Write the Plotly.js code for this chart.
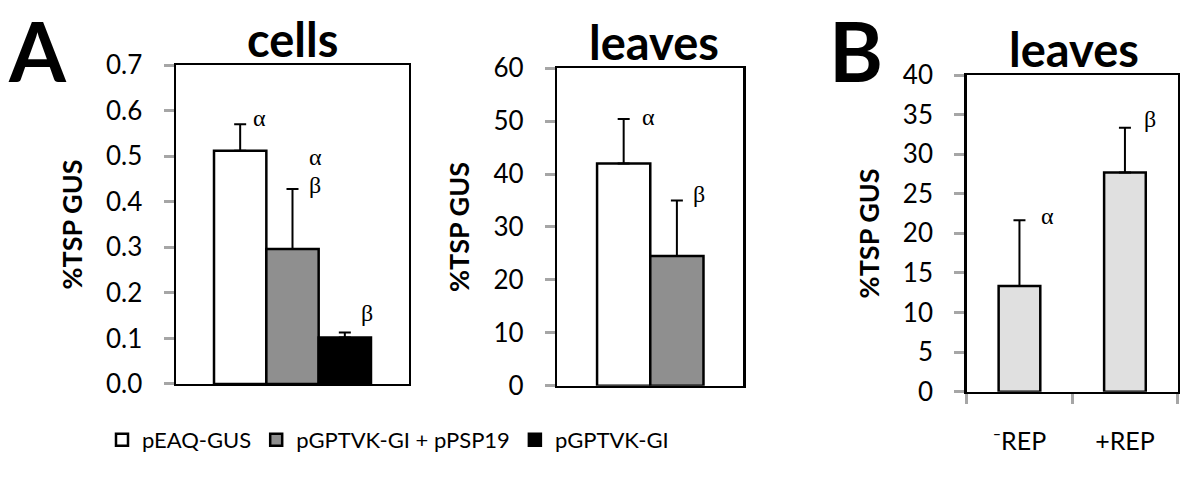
<!DOCTYPE html>
<html>
<head>
<meta charset="utf-8">
<script src="https://cdn.plot.ly/plotly-3.0.1.min.js"></script>
<style>
  html, body { margin: 0; padding: 0; background: #fff; }
  #chart { width: 1200px; height: 483px; }
</style>
</head>
<body>
<div id="chart"></div>
<script>
// panel A, cells
var seriesNames = ['pEAQ-GUS', 'pGPTVK-GI + pPSP19', 'pGPTVK-GI'];
var seriesColors = ['#ffffff', '#8f8f8f', '#000000'];
var cellsVals = [0.512, 0.296, 0.102];
var cellsErr = [0.058, 0.132, 0.011];

// panel A, leaves (only the first two series)
var leavesVals = [42.0, 24.5];
var leavesErr = [8.4, 10.5];

// panel B, leaves
var repCats = ['\u207BREP', '+REP'];
var repVals = [13.35, 27.7];
var repErr = [8.3, 5.65];

var font = 'Lato, "Open Sans", sans-serif';
var serif = '"Liberation Serif", "DejaVu Serif", serif';

function errBar(vals) {
  return {type: 'data', symmetric: false, array: vals,
          arrayminus: vals.map(function () { return 0; }),
          color: '#000', thickness: 2, width: 6};
}

var data = [];
seriesNames.forEach(function (name, i) {
  data.push({
    type: 'bar', name: name, x: ['cells'], y: [cellsVals[i]],
    xaxis: 'x', yaxis: 'y',
    marker: {color: seriesColors[i], line: {color: '#000', width: 2.5}},
    error_y: errBar([cellsErr[i]]),
    hoverinfo: 'y'
  });
});
leavesVals.forEach(function (v, i) {
  data.push({
    type: 'bar', name: seriesNames[i], x: ['leaves'], y: [v],
    xaxis: 'x2', yaxis: 'y2', showlegend: false,
    marker: {color: seriesColors[i], line: {color: '#000', width: 2.5}},
    error_y: errBar([leavesErr[i]]),
    hoverinfo: 'y'
  });
});
data.push({
  type: 'bar', x: repCats, y: repVals, width: 0.395,
  xaxis: 'x3', yaxis: 'y3', showlegend: false,
  marker: {color: '#e0e0e0', line: {color: '#000', width: 2.5}},
  error_y: errBar(repErr),
  hoverinfo: 'y'
});

function yAx(domY, range, dtick, fmt, anchor) {
  return {
    domain: domY, anchor: anchor, range: range, dtick: dtick, tickformat: fmt,
    showgrid: false, zeroline: false,
    showline: true, linecolor: '#000', linewidth: 2.5, mirror: true,
    ticks: 'outside', ticklen: 10, tickwidth: 3, tickcolor: '#a6a6a6',
    ticklabelstandoff: 16,
    tickfont: {family: font, size: 26, color: '#000'},
    title: {text: '<b>%TSP GUS</b>', standoff: 16,
            font: {family: font, size: 27, color: '#000'}}
  };
}
function xAx(dom, anchor) {
  return {
    domain: dom, anchor: anchor, showgrid: false, zeroline: false,
    showline: true, linecolor: '#000', linewidth: 2.5, mirror: true,
    showticklabels: false, ticks: ''
  };
}

var layout = {
  width: 1200, height: 483,
  margin: {l: 0, r: 0, t: 0, b: 0},
  paper_bgcolor: '#fff', plot_bgcolor: '#fff',
  barmode: 'group', bargap: 0.326, bargroupgap: 0,
  font: {family: font, color: '#000'},
  xaxis: xAx([0.1467, 0.3408], 'y'),
  yaxis: yAx([0.205, 0.8654], [0, 0.7], 0.1, '.1f', 'x'),
  xaxis2: Object.assign(xAx([0.4644, 0.6194], 'y2'), {range: [-0.589, 0.589]}),
  yaxis2: yAx([0.2015, 0.8586], [0, 60], 10, '', 'x2'),
  xaxis3: Object.assign(xAx([0.8056, 0.9814], 'y3'), {
    showticklabels: true, ticks: 'outside', tickson: 'boundaries',
    ticklen: 10, tickwidth: 3, tickcolor: '#a6a6a6', ticklabelstandoff: 26,
    tickfont: {family: font, size: 25, color: '#000'}
  }),
  yaxis3: yAx([0.189, 0.8447], [0, 40], 5, '', 'x3'),
  showlegend: true,
  legend: {
    orientation: 'h', x: 0.085, xanchor: 'left', y: 0.089, yanchor: 'middle',
    font: {family: font, size: 22, color: '#000'},
    bgcolor: 'rgba(0,0,0,0)', borderwidth: 0, traceorder: 'normal'
  },
  annotations: [
    {text: '<b>A</b>', x: 7 / 1200, y: 1, xref: 'paper', yref: 'paper',
     xanchor: 'left', yanchor: 'top', yshift: 0, borderpad: 0, showarrow: false,
     font: {family: font, size: 82, color: '#000'}},
    {text: '<b>B</b>', x: 828 / 1200, y: 1, xref: 'paper', yref: 'paper',
     xanchor: 'left', yanchor: 'top', yshift: 0, borderpad: 0, showarrow: false,
     font: {family: font, size: 82, color: '#000'}},
    {text: '<b>cells</b>', x: 0.5, y: 1, xref: 'x domain', yref: 'y domain',
     xanchor: 'center', yanchor: 'bottom', yshift: -4, showarrow: false,
     font: {family: font, size: 47, color: '#000'}},
    {text: '<b>leaves</b>', x: 0.52, y: 1, xref: 'x2 domain', yref: 'y2 domain',
     xanchor: 'center', yanchor: 'bottom', yshift: -4, showarrow: false,
     font: {family: font, size: 47, color: '#000'}},
    {text: '<b>leaves</b>', x: 0.51, y: 1, xref: 'x3 domain', yref: 'y3 domain',
     xanchor: 'center', yanchor: 'bottom', yshift: -4, showarrow: false,
     font: {family: font, size: 47, color: '#000'}},
    // significance letters
    {text: '\u03B1', x: 0.36, y: 0.584, xref: 'x domain', yref: 'y'},
    {text: '\u03B1', x: 0.597, y: 0.498, xref: 'x domain', yref: 'y'},
    {text: '\u03B2', x: 0.597, y: 0.437, xref: 'x domain', yref: 'y'},
    {text: '\u03B2', x: 0.82, y: 0.156, xref: 'x domain', yref: 'y'},
    {text: '\u03B1', x: 0.493, y: 50.8, xref: 'x2 domain', yref: 'y2'},
    {text: '\u03B2', x: 0.762, y: 36.2, xref: 'x2 domain', yref: 'y2'},
    {text: '\u03B1', x: 0.385, y: 22.2, xref: 'x3 domain', yref: 'y3'},
    {text: '\u03B2', x: 0.869, y: 34.4, xref: 'x3 domain', yref: 'y3'}
  ].map(function (a) {
    if (a.showarrow === undefined) {
      a.showarrow = false;
      a.xanchor = 'center';
      a.yanchor = 'middle';
      a.font = {family: serif, size: 24, color: '#000'};
    }
    return a;
  })
};

Plotly.newPlot('chart', data, layout, {displayModeBar: false, staticPlot: true});
</script>
</body>
</html>
